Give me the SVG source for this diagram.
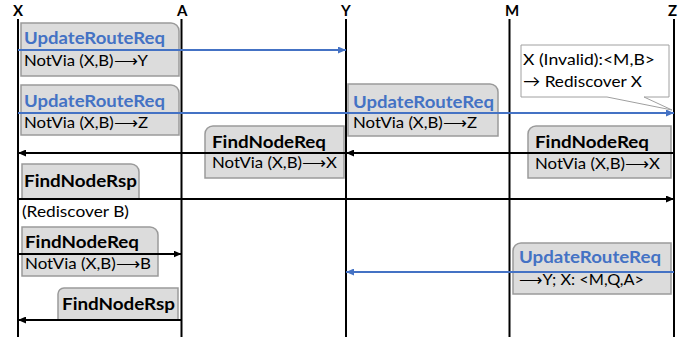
<svg xmlns="http://www.w3.org/2000/svg" width="697" height="340" viewBox="0 0 697 340">
  <style>
    text { font-family: "Lato", "Noto Sans", "Liberation Sans", sans-serif; }
    .actor { font-size: 15px; font-weight: bold; fill: #000; }
    .life { stroke: #000; stroke-width: 2; fill: none; }
    .box { fill: #dcdcdc; stroke: #9a9a9a; stroke-width: 1.5; }
    .note { fill: #fff; stroke: #a0a0a0; stroke-width: 1; }
    .title { font-size: 17px; font-weight: bold; fill: #000; }
    .blue { fill: #4472c4; }
    .body { font-size: 16px; fill: #000; }
    .msg { stroke: #000; stroke-width: 2; fill: none; marker-end: url(#head); }
    .msg.upd { stroke: #4472c4; marker-end: url(#headBlue); }
  </style>
  <defs>
    <marker id="head" viewBox="0 0 8 7" markerWidth="8" markerHeight="7" refX="8" refY="3.5" orient="auto" markerUnits="userSpaceOnUse">
      <path d="M0,0 L8,3.5 L0,7 Z" fill="#000"/>
    </marker>
    <marker id="headBlue" viewBox="0 0 8 7" markerWidth="8" markerHeight="7" refX="8" refY="3.5" orient="auto" markerUnits="userSpaceOnUse">
      <path d="M0,0 L8,3.5 L0,7 Z" fill="#4472c4"/>
    </marker>
  </defs>

  <rect width="697" height="340" fill="#fff"/>

  <!-- lifelines -->
  <g id="lifeline-X"><text class="actor" x="13" y="16">X</text><line class="life" x1="18" y1="19" x2="18" y2="337"/></g>
  <g id="lifeline-A"><text class="actor" x="177" y="16">A</text><line class="life" x1="181.5" y1="19" x2="181.5" y2="337"/></g>
  <g id="lifeline-Y"><text class="actor" x="341" y="16">Y</text><line class="life" x1="346" y1="19" x2="346" y2="337"/></g>
  <g id="lifeline-M"><text class="actor" x="505" y="16">M</text><line class="life" x1="509.5" y1="19" x2="509.5" y2="337"/></g>
  <g id="lifeline-Z"><text class="actor" x="668" y="16">Z</text><line class="life" x1="674" y1="19" x2="674" y2="337"/></g>

  <!-- message labels -->
  <g id="msg1">
    <path class="box" d="M21,23 H171 A8,8 0 0 1 179,31 V76 H21 Z"/>
    <text class="title blue" x="24" y="44" textLength="141" lengthAdjust="spacingAndGlyphs">UpdateRouteReq</text>
    <text class="body" x="24" y="66" textLength="124" lengthAdjust="spacingAndGlyphs">NotVia (X,B)⟶Y</text>
  </g>
  <g id="msg2">
    <path class="box" d="M21,85 H171 A8,8 0 0 1 179,93 V135 H21 Z"/>
    <text class="title blue" x="24" y="107" textLength="141" lengthAdjust="spacingAndGlyphs">UpdateRouteReq</text>
    <text class="body" x="24" y="128" textLength="124" lengthAdjust="spacingAndGlyphs">NotVia (X,B)⟶Z</text>
  </g>
  <g id="msg3">
    <path class="box" d="M348,84 H490 A8,8 0 0 1 498,92 V136 H348 Z"/>
    <text class="title blue" x="353" y="108" textLength="141" lengthAdjust="spacingAndGlyphs">UpdateRouteReq</text>
    <text class="body" x="353" y="128" textLength="124" lengthAdjust="spacingAndGlyphs">NotVia (X,B)⟶Z</text>
  </g>
  <g id="note-Z">
    <path class="note" d="M521,45 H669 V97 H644 L672,110 L607,97 H521 Z"/>
    <text class="body" x="523" y="65" textLength="132" lengthAdjust="spacingAndGlyphs">X (Invalid):&lt;M,B&gt;</text>
    <text class="body" x="523" y="87" textLength="119" lengthAdjust="spacingAndGlyphs">→ Rediscover X</text>
  </g>
  <g id="msg4">
    <path class="box" d="M213,126 H344 V178 H205 V134 A8,8 0 0 1 213,126 Z"/>
    <text class="title" x="212" y="148" textLength="114" lengthAdjust="spacingAndGlyphs">FindNodeReq</text>
    <text class="body" x="212" y="168" textLength="125" lengthAdjust="spacingAndGlyphs">NotVia (X,B)⟶X</text>
  </g>
  <g id="msg5">
    <path class="box" d="M536,126 H671 V178 H528 V134 A8,8 0 0 1 536,126 Z"/>
    <text class="title" x="535" y="148" textLength="114" lengthAdjust="spacingAndGlyphs">FindNodeReq</text>
    <text class="body" x="535" y="169" textLength="125" lengthAdjust="spacingAndGlyphs">NotVia (X,B)⟶X</text>
  </g>
  <g id="msg6">
    <path class="box" d="M22,164 H131 A8,8 0 0 1 139,172 V199 H22 Z"/>
    <text class="title" x="24" y="187" textLength="113" lengthAdjust="spacingAndGlyphs">FindNodeRsp</text>
  </g>
  <g id="rediscover-B">
    <text class="body" x="22" y="217" textLength="107" lengthAdjust="spacingAndGlyphs">(Rediscover B)</text>
  </g>
  <g id="msg7">
    <path class="box" d="M22,227 H150 A8,8 0 0 1 158,235 V276 H22 Z"/>
    <text class="title" x="25" y="248" textLength="114" lengthAdjust="spacingAndGlyphs">FindNodeReq</text>
    <text class="body" x="25" y="269" textLength="126" lengthAdjust="spacingAndGlyphs">NotVia (X,B)⟶B</text>
  </g>
  <g id="msg8">
    <path class="box" d="M64,288 H178 V320 H58 V294 A6,6 0 0 1 64,288 Z"/>
    <text class="title" x="62" y="310" textLength="113" lengthAdjust="spacingAndGlyphs">FindNodeRsp</text>
  </g>
  <g id="msg9">
    <path class="box" d="M521,243 H671 V294 H513 V251 A8,8 0 0 1 521,243 Z"/>
    <text class="title blue" x="519" y="263" textLength="142" lengthAdjust="spacingAndGlyphs">UpdateRouteReq</text>
    <text class="body" x="519" y="285" textLength="125" lengthAdjust="spacingAndGlyphs">⟶Y; X: &lt;M,Q,A&gt;</text>
  </g>

  <!-- connectors -->
  <g id="connectors">
    <line class="msg upd" x1="18" y1="50" x2="346" y2="50"/>
    <line class="msg upd" x1="18" y1="113" x2="674" y2="113"/>
    <line class="msg" x1="674" y1="153" x2="346" y2="153"/>
    <line class="msg" x1="346" y1="153" x2="18" y2="153"/>
    <line class="msg" x1="18" y1="199" x2="674" y2="199"/>
    <line class="msg" x1="18" y1="254" x2="181.5" y2="254"/>
    <line class="msg" x1="181.5" y1="320" x2="18" y2="320"/>
    <line class="msg upd" x1="674" y1="272" x2="346" y2="272"/>
  </g>
</svg>
